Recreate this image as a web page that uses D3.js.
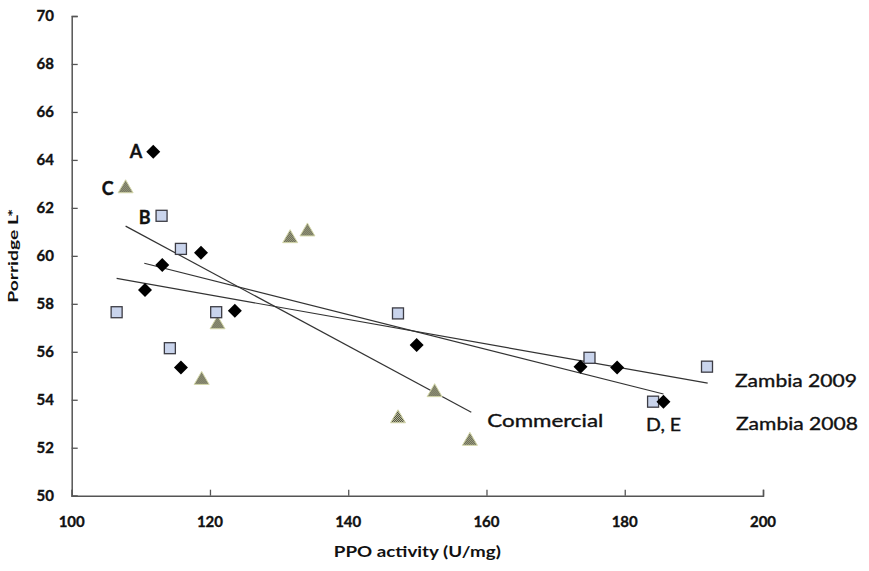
<!DOCTYPE html>
<html>
<head>
<meta charset="utf-8">
<script src="https://cdn.jsdelivr.net/npm/d3@7"></script>
<style>
  html, body { margin: 0; padding: 0; background: #fff; }
  svg { display: block; }
  text { font-family: Lato, "Open Sans", "DejaVu Sans", sans-serif; fill: #111; }
</style>
</head>
<body>
<svg id="chart" width="869" height="571"></svg>
<script>
// ---- data ----
const xTicks = [100, 120, 140, 160, 180, 200];
const yTicks = [50, 52, 54, 56, 58, 60, 62, 64, 66, 68, 70];

const zambia2008X = [111.8, 118.7, 113.1, 110.6, 123.6, 115.8, 149.9, 173.6, 178.9, 185.6];
const zambia2008Y = [64.34, 60.13, 59.62, 58.58, 57.71, 55.34, 56.28, 55.38, 55.35, 53.92];

const zambia2009X = [113.0, 115.8, 106.5, 120.9, 114.2, 147.2, 174.9, 191.9, 184.1];
const zambia2009Y = [61.67, 60.29, 57.65, 57.65, 56.15, 57.60, 55.75, 55.38, 53.92];

const commercialX = [107.8, 131.6, 134.1, 121.1, 118.8, 147.2, 152.5, 157.6];
const commercialY = [62.88, 60.80, 61.08, 57.21, 54.89, 53.29, 54.38, 52.35];

// trend lines: [x start, x end], [y start, y end]
const trendCommercialX = [107.8, 157.8];
const trendCommercialY = [61.24, 53.48];
const trend2008X = [110.5, 185.6];
const trend2008Y = [59.69, 54.24];
const trend2009X = [106.5, 192.0];
const trend2009Y = [59.06, 54.69];

const xTitle = "PPO activity (U/mg)";
const yTitle = "Porridge L*";

// ---- drawing ----
const svg = d3.select("#chart");
const x = d3.scaleLinear().domain([100, 200]).range([71.7, 763]);
const y = d3.scaleLinear().domain([50, 70]).range([495.7, 16]);

const defs = svg.append("defs");
const pat = defs.append("pattern").attr("id", "checker")
  .attr("width", 2).attr("height", 2).attr("patternUnits", "userSpaceOnUse");
pat.append("rect").attr("width", 2).attr("height", 2).attr("fill", "#d9dcae");
pat.append("rect").attr("width", 1).attr("height", 1).attr("fill", "#2e2e2a");
pat.append("rect").attr("x", 1).attr("y", 1).attr("width", 1).attr("height", 1).attr("fill", "#2e2e2a");

// axes
const axisColor = "#555";
const yAxis = svg.append("g").attr("transform", `translate(${x(100)},0)`)
  .call(d3.axisRight(y).tickValues(yTicks).tickSize(6).tickFormat(""));
const xAxis = svg.append("g").attr("transform", `translate(0,${y(50)})`)
  .call(d3.axisTop(x).tickValues(xTicks).tickSize(6).tickFormat(""));
[xAxis, yAxis].forEach(g => {
  g.select(".domain").attr("stroke", axisColor).attr("stroke-width", 1.5);
  g.selectAll(".tick line").attr("stroke", axisColor).attr("stroke-width", 1.3);
});

const heavy = sel => sel.attr("stroke", "#111").attr("stroke-width", 0.35);

heavy(svg.append("g").selectAll("text").data(yTicks).join("text")
  .attr("x", 54).attr("y", d => y(d)).attr("dy", "0.36em")
  .attr("text-anchor", "end").attr("font-size", 15).attr("font-weight", 700)
  .text(d => d));
heavy(svg.append("g").selectAll("text").data(xTicks).join("text")
  .attr("x", d => x(d)).attr("y", 527)
  .attr("text-anchor", "middle").attr("font-size", 15).attr("font-weight", 700)
  .text(d => d));

svg.append("text").attr("x", x(150)).attr("y", 557)
  .attr("text-anchor", "middle").attr("font-size", 15).attr("font-weight", 700)
  .attr("textLength", 167).attr("lengthAdjust", "spacingAndGlyphs")
  .text(xTitle);
svg.append("text").attr("transform", `translate(18,${y(60)}) rotate(-90)`)
  .attr("text-anchor", "middle").attr("font-size", 14).attr("font-weight", 700)
  .attr("textLength", 94).attr("lengthAdjust", "spacingAndGlyphs")
  .text(yTitle);

// trend lines
const line = d3.line().x(d => x(d[0])).y(d => y(d[1]));
[[trendCommercialX, trendCommercialY], [trend2008X, trend2008Y], [trend2009X, trend2009Y]]
  .forEach(([tx, ty]) => {
    svg.append("path").attr("d", line(tx.map((v, i) => [v, ty[i]])))
      .attr("fill", "none").attr("stroke", "#333").attr("stroke-width", 1.2);
  });

// markers
const zip = (a, b) => a.map((v, i) => [v, b[i]]);
svg.append("g").selectAll("path").data(zip(commercialX, commercialY)).join("path")
  .attr("transform", d => `translate(${x(d[0])},${y(d[1])})`)
  .attr("d", "M0,-7L7.5,6L-7.5,6Z")
  .attr("fill", "url(#checker)").attr("stroke", "#d6d9ac").attr("stroke-width", 1);
svg.append("g").selectAll("rect").data(zip(zambia2009X, zambia2009Y)).join("rect")
  .attr("x", d => x(d[0]) - 5.5).attr("y", d => y(d[1]) - 5.5)
  .attr("width", 11).attr("height", 11)
  .attr("fill", "#c9d4ec").attr("stroke", "#3c3c44").attr("stroke-width", 1.3);
svg.append("g").selectAll("path").data(zip(zambia2008X, zambia2008Y)).join("path")
  .attr("transform", d => `translate(${x(d[0])},${y(d[1])})`)
  .attr("d", "M0,-7L7,0L0,7L-7,0Z")
  .attr("fill", "#000");

// annotations
const lab = (t, px, py, anchor, size, weight, len) => {
  const el = svg.append("text").attr("x", px).attr("y", py)
    .attr("text-anchor", anchor).attr("font-size", size).attr("font-weight", weight).text(t);
  heavy(el);
  if (len) el.attr("textLength", len).attr("lengthAdjust", "spacingAndGlyphs");
};
lab("A", x(zambia2008X[0]) - 11, y(zambia2008Y[0]) + 6, "end", 18, 700);
lab("C", x(commercialX[0]) - 12, y(commercialY[0]) + 8, "end", 18, 700);
lab("B", x(zambia2009X[0]) - 11, y(zambia2009Y[0]) + 8, "end", 18, 700);
lab("Commercial", x(trendCommercialX[1]) + 16, 427, "start", 17, 400, 116);
lab("D, E", x(zambia2009X[8]) - 7, 431, "start", 17, 400, 35);
lab("Zambia 2009", 735, 387, "start", 17, 400, 122);
lab("Zambia 2008", 736, 430, "start", 17, 400, 122);
</script>
</body>
</html>
